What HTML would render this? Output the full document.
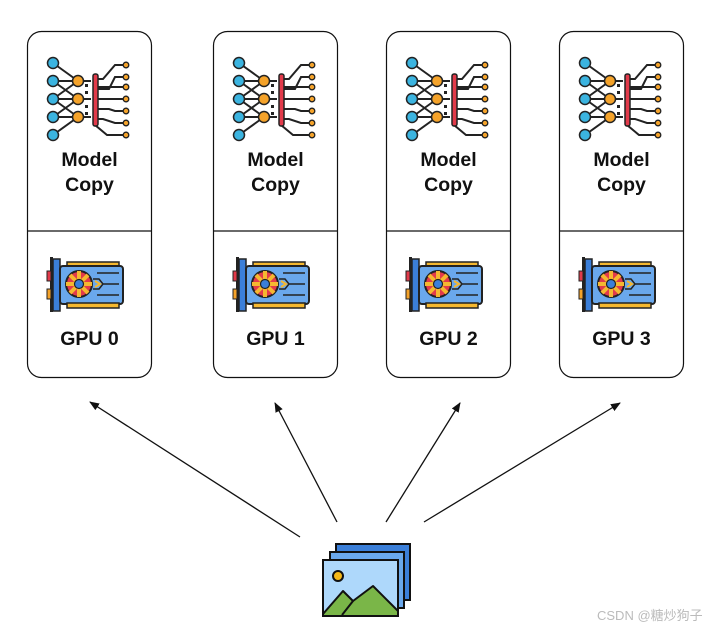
<!DOCTYPE html>
<html><head><meta charset="utf-8"><style>
body{margin:0;background:#fff;width:708px;height:628px;overflow:hidden;font-family:"Liberation Sans",Arial,sans-serif}
</style></head><body>
<svg width="708" height="628" viewBox="0 0 708 628" xmlns="http://www.w3.org/2000/svg">
<defs>
<marker id="ah" markerWidth="10" markerHeight="8" refX="9" refY="4" orient="auto" markerUnits="userSpaceOnUse">
<path d="M0,0 L10,4 L0,8 Z" fill="#111"/></marker>
<g id="col">
<rect x="0.5" y="0.5" width="124" height="346" rx="14" fill="#fff" stroke="#111" stroke-width="1.2"/>
<line x1="0.5" y1="200" x2="124.5" y2="200" stroke="#111" stroke-width="1.2"/>
<g stroke="#222" stroke-width="2" fill="none">
<path d="M26,32 L51,50 M26,50 L51,50 M26,50 L51,68 M26,68 L51,50 M26,68 L51,68 M26,68 L51,86 M26,86 L51,68 M26,86 L51,86 M26,104 L51,86"/>
<path d="M51,50 L64,50 M51,68 L64,68 M51,86 L64,86"/>
<path d="M68,48 L76,48 L88,34 L98,34 M68,58 L82,58 L88,46 L98,46 M68,68 L98,68 M68,56 L98,56 M68,78 L82,78 L88,80 L98,80 M68,88 L76,88 L88,92 L98,92 M68,94 L80,104 L98,104"/>
</g>
<g fill="#222"><rect x="58" y="53" width="3" height="3"/><rect x="58" y="60" width="3" height="3"/><rect x="58" y="74" width="3" height="3"/><rect x="58" y="81" width="3" height="3"/></g>
<rect x="66" y="43" width="5" height="52" rx="2" fill="#e23a4a" stroke="#222" stroke-width="1.5"/>
<g fill="#3bb4e0" stroke="#222" stroke-width="1.5">
<circle cx="26" cy="32" r="5.5"/><circle cx="26" cy="50" r="5.5"/><circle cx="26" cy="68" r="5.5"/><circle cx="26" cy="86" r="5.5"/><circle cx="26" cy="104" r="5.5"/></g>
<g fill="#f5a32a" stroke="#222" stroke-width="1.5">
<circle cx="51" cy="50" r="5.5"/><circle cx="51" cy="68" r="5.5"/><circle cx="51" cy="86" r="5.5"/></g>
<g fill="#f5a32a" stroke="#222" stroke-width="1.3">
<circle cx="99" cy="34" r="2.8"/><circle cx="99" cy="46" r="2.8"/><circle cx="99" cy="56" r="2.8"/><circle cx="99" cy="68" r="2.8"/><circle cx="99" cy="80" r="2.8"/><circle cx="99" cy="92" r="2.8"/><circle cx="99" cy="104" r="2.8"/></g>
<text x="62.5" y="135" text-anchor="middle" font-size="19.5" font-weight="bold" fill="#111">Model</text>
<text x="62.5" y="160" text-anchor="middle" font-size="19.5" font-weight="bold" fill="#111">Copy</text>
<rect x="23" y="226" width="3" height="55" fill="#222"/>
<rect x="26" y="228" width="7" height="52" fill="#3b7fd9" stroke="#222" stroke-width="1.5"/>
<rect x="20" y="240" width="4" height="10" fill="#e23a4a" stroke="#222" stroke-width="1"/>
<rect x="20" y="258" width="4" height="10" fill="#f5a32a" stroke="#222" stroke-width="1"/>
<rect x="40" y="231" width="52" height="6" fill="#f5b830" stroke="#222" stroke-width="1.5"/>
<rect x="33" y="235" width="63" height="38" rx="3" fill="#6aa8ec" stroke="#222" stroke-width="2"/>
<rect x="40" y="272" width="52" height="5" fill="#f5b830" stroke="#222" stroke-width="1.5"/>
<circle cx="52" cy="253" r="13" fill="#e23a4a" stroke="#222" stroke-width="2"/>
<path d="M52,240 L52,266 M39,253 L65,253 M43,244 L61,262 M61,244 L43,262" stroke="#f5b830" stroke-width="4"/>
<circle cx="52" cy="253" r="4.5" fill="#3b7fd9" stroke="#222" stroke-width="1.2"/>
<path d="M66,248 L72,248 L76,253 L72,258 L66,258 M76,253 L92,253 M70,242 L92,242 M70,264 L92,264" stroke="#222" stroke-width="1.5" fill="none"/>
<path d="M68,250 L73,253 L68,256" stroke="#f5b830" stroke-width="2" fill="none"/>
<text x="62.5" y="314" text-anchor="middle" font-size="19.5" font-weight="bold" fill="#111">GPU 0</text>
</g>
</defs>
<use href="#col" x="27" y="31"/>
<g transform="translate(213,31)">
<use href="#col"/><rect x="28" y="296" width="69" height="24" fill="#fff"/>
<text x="62.5" y="314" text-anchor="middle" font-size="19.5" font-weight="bold" fill="#111">GPU 1</text></g>
<g transform="translate(386,31)">
<use href="#col"/><rect x="28" y="296" width="69" height="24" fill="#fff"/>
<text x="62.5" y="314" text-anchor="middle" font-size="19.5" font-weight="bold" fill="#111">GPU 2</text></g>
<g transform="translate(559,31)">
<use href="#col"/><rect x="28" y="296" width="69" height="24" fill="#fff"/>
<text x="62.5" y="314" text-anchor="middle" font-size="19.5" font-weight="bold" fill="#111">GPU 3</text></g>
<g stroke="#111" stroke-width="1.3" marker-end="url(#ah)">
<line x1="300" y1="537" x2="90" y2="402"/>
<line x1="337" y1="522" x2="275" y2="403"/>
<line x1="386" y1="522" x2="460" y2="403"/>
<line x1="424" y1="522" x2="620" y2="403"/>
</g>
<rect x="336" y="544" width="74" height="56" fill="#3b7fd9" stroke="#111" stroke-width="2"/>
<rect x="330" y="552" width="74" height="56" fill="#6aa8ec" stroke="#111" stroke-width="2"/>
<rect x="323" y="560" width="75" height="56" fill="#aed8fb" stroke="#111" stroke-width="2"/>
<circle cx="338" cy="576" r="5" fill="#f5b818" stroke="#111" stroke-width="2"/>
<path d="M323,614 L343,591 L353,601 L373,586 L398,611 L398,616 L323,616 Z" fill="#7ab648" stroke="#111" stroke-width="2" stroke-linejoin="round"/>
<path d="M353,601 L342,615" stroke="#111" stroke-width="2"/>
<text x="597" y="620" font-size="13" fill="#bbb" font-family="Liberation Sans,Noto Sans CJK SC,sans-serif">CSDN @糖炒狗子</text>
</svg>
</body></html>
